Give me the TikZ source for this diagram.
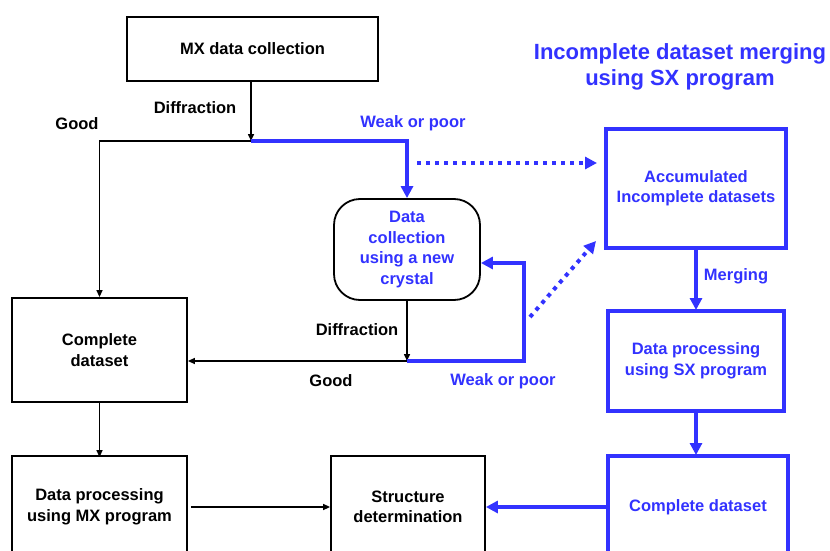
\documentclass[tikz,border=0pt]{standalone}
\usepackage{fontspec}
\setmainfont{Liberation Sans}
\usetikzlibrary{arrows.meta,calc}
\definecolor{sxblue}{RGB}{50,50,255}
\tikzset{
  lab/.style={font=\fontsize{16.5}{20.5}\selectfont\bfseries, align=center, inner sep=0pt},
  blab/.style={lab, text=sxblue},
  bbox/.style={draw, line width=1.8pt, lab, inner sep=0pt},
  sxbox/.style={draw=sxblue, line width=4pt, blab},
  arr/.style={line width=1.5pt, -{Triangle[length=7pt,width=6pt]}},
  blk/.style={line width=1.5pt},
  barr/.style={draw=sxblue, line width=4pt, -{Triangle[length=12pt,width=12pt]}},
  bln/.style={draw=sxblue, line width=4pt},
  dotarr/.style={draw=sxblue, line width=4pt, dash pattern=on 4pt off 5pt, -{Triangle[length=12pt,width=12pt]}},
}
\begin{document}
\begin{tikzpicture}[x=1pt,y=-1pt]
\clip (0,0) rectangle (830,551);
\fill[white] (0,0) rectangle (830,551);

% nodes
\node[bbox, minimum width=251pt, minimum height=64pt] (mx) at (252.5,49) {MX data collection};
\node[bbox, minimum width=175pt, minimum height=104pt] (cd) at (99.5,350) {Complete\\dataset};
\node[bbox, minimum width=175pt, minimum height=102pt] (dp) at (99.5,507) {Data processing\\using MX program};
\node[bbox, minimum width=154pt, minimum height=102pt] (sd) at (408,507) {Structure\\determination};
\node[bbox, rounded corners=26pt, minimum width=146pt, minimum height=101pt, text=sxblue] (rb) at (407,249.5) {Data\\collection\\using a new\\crystal};

\node[blab, font=\fontsize{22}{26}\selectfont\bfseries] (title) at (680,67) {Incomplete dataset merging\\using SX program};
\node[sxbox, minimum width=180pt, minimum height=119pt] (acc) at (696,188) {Accumulated\\Incomplete datasets};
\node[sxbox, minimum width=176pt, minimum height=100pt] (dpsx) at (696,361) {Data processing\\using SX program};
\node[sxbox, minimum width=180pt, minimum height=102pt] (cdr) at (698,507) {Complete dataset};

% labels
\node[lab] (ldif1) at (195,108) {Diffraction};
\node[lab] (lgood1) at (77,124) {Good};
\node[blab] (lweak1) at (413,123) {Weak or poor};
\node[lab] (ldif2) at (357,330) {Diffraction};
\node[lab] (lgood2) at (331,381) {Good};
\node[blab] (lweak2) at (503,381) {Weak or poor};
\node[blab] (lmerge) at (736,276) {Merging};

% coordinates
\coordinate (j1) at (251,141);
\coordinate (j2) at (407,361);
\coordinate (j3) at (524,361);
\coordinate (j4) at (524,263);
\coordinate (d1) at (417,163);
\coordinate (d2) at (530,317);
\coordinate (d2e) at (596,241);

% black connectors
\draw[arr] (mx.south -| j1) -- (j1);
\draw[arr] (j1) -| (cd.north);
\draw[arr] (rb.south) -- (j2);
\draw[arr] (j2) -- (j2 -| cd.east);
\draw[arr] (cd.south) -- ([yshift=-2pt]dp.north);
\draw[arr, shorten <=3pt] (dp.east) -- (sd.west);

% blue connectors
\draw[barr] (j1) -| (rb.north);
\draw[barr] (j2) -- (j3) -- (j4) -- (j4 -| rb.east);
\draw[dotarr, shorten >=7pt] (d1) -- (d1 -| acc.west);
\draw[dotarr] (d2) -- (d2e);
\draw[barr] (acc.south) -- ([yshift=-1pt]dpsx.north);
\draw[barr] (dpsx.south) -- ([yshift=-1pt]dpsx.south |- cdr.north);
\draw[barr] (cdr.west) -- (sd.east);
\end{tikzpicture}
\end{document}
